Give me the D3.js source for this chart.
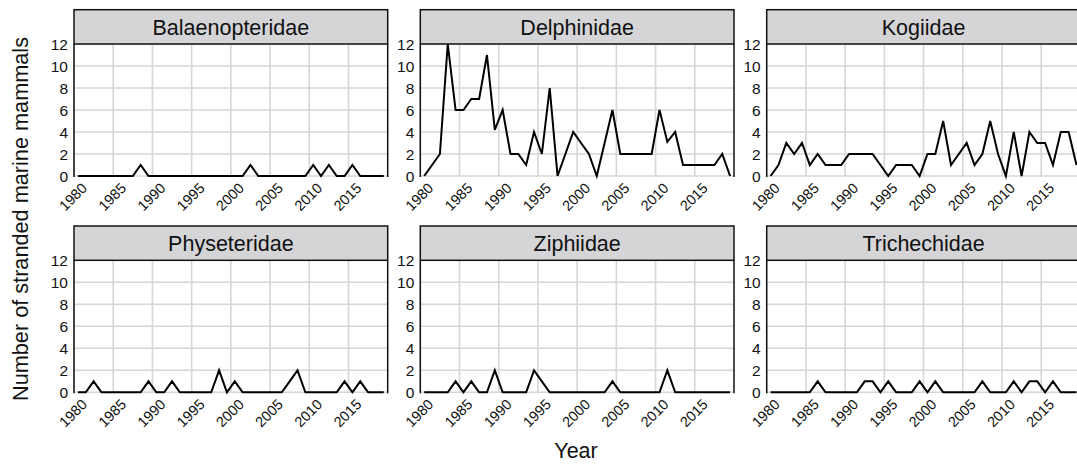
<!DOCTYPE html>
<html><head><meta charset="utf-8">
<script src="https://cdn.jsdelivr.net/npm/d3@7"></script>
<style>
body{margin:0;background:#fff;overflow:hidden}
text{font-family:Arial,"Liberation Sans",Helvetica,sans-serif;fill:#111}
</style></head>
<body><svg id="chart" width="1077" height="464"></svg>
<script>
const years=[1980,1981,1982,1983,1984,1985,1986,1987,1988,1989,1990,1991,1992,1993,1994,1995,1996,1997,1998,1999,2000,2001,2002,2003,2004,2005,2006,2007,2008,2009,2010,2011,2012,2013,2014,2015,2016,2017,2018,2019];
const families=["Balaenopteridae","Delphinidae","Kogiidae","Physeteridae","Ziphiidae","Trichechidae"];
const balaenopteridae=[0,0,0,0,0,0,0,0,1,0,0,0,0,0,0,0,0,0,0,0,0,0,1,0,0,0,0,0,0,0,1,0,1,0,0,1,0,0,0,0];
const delphinidae=[0,1,2,12,6,6,7,7,11,4.2,6,2,2,1,4,2,8,0,2,4,3,2,0,3,6,2,2,2,2,2,6,3.1,4,1,1,1,1,1,2,0];
const kogiidae=[0,1,3,2,3,1,2,1,1,1,2,2,2,2,1,0,1,1,1,0,2,2,5,1,2,3,1,2,5,2,0,4,0,4,3,3,1,4,4,1];
const physeteridae=[0,0,1,0,0,0,0,0,0,1,0,0,1,0,0,0,0,0,2,0,1,0,0,0,0,0,0,1,2,0,0,0,0,0,1,0,1,0,0,0];
const ziphiidae=[0,0,0,0,1,0,1,0,0,2,0,0,0,0,2,1,0,0,0,0,0,0,0,0,1,0,0,0,0,0,0,2,0,0,0,0,0,0,0,0];
const trichechidae=[0,0,0,0,0,0,1,0,0,0,0,0,1,1,0,1,0,0,0,1,0,1,0,0,0,0,0,1,0,0,0,1,0,1,1,0,1,0,0,0];
const seriesList=[balaenopteridae,delphinidae,kogiidae,physeteridae,ziphiidae,trichechidae];
const yTicks=[0,2,4,6,8,10,12];
const xTicks=[1980,1985,1990,1995,2000,2005,2010,2015];
const yTitle="Number of stranded marine mammals";
const xTitle="Year";

const svg=d3.select("#chart");
const panelW=313.7, panelH=132, stripH=34.3;
const colLeft=[74,420.3,766.7];
const rowTop=[44,260.3];

const x=d3.scaleLinear().domain([1980,2020]).range([0,panelW]);
const y=d3.scaleLinear().domain([0,12]).range([panelH,0]);

families.forEach((name,i)=>{
  const col=i%3,row=Math.floor(i/3);
  const g=svg.append("g").attr("transform",`translate(${colLeft[col]},${rowTop[row]})`);
  g.selectAll(".vg").data(xTicks).join("line")
    .attr("x1",d=>x(d)).attr("x2",d=>x(d)).attr("y1",0).attr("y2",panelH)
    .attr("stroke","#d6d6d6").attr("stroke-width",1.6);
  g.selectAll(".hg").data(yTicks).join("line")
    .attr("x1",0).attr("x2",panelW).attr("y1",d=>y(d)).attr("y2",d=>y(d))
    .attr("stroke","#d6d6d6").attr("stroke-width",1.6);
  g.append("line").attr("x1",0).attr("x2",0).attr("y1",0).attr("y2",panelH+1).attr("stroke","#111").attr("stroke-width",1.5);
  g.append("line").attr("x1",panelW).attr("x2",panelW).attr("y1",0).attr("y2",panelH+1).attr("stroke","#111").attr("stroke-width",1.5);
  g.append("rect").attr("x",0).attr("y",-stripH).attr("width",panelW).attr("height",stripH)
    .attr("fill","#d5d5d7").attr("stroke","#111").attr("stroke-width",1.5);
  g.append("text").attr("x",panelW/2).attr("y",-stripH/2).attr("dy","0.36em")
    .attr("text-anchor","middle").style("font-size","21.5px").text(name);
  g.selectAll(".yl").data(yTicks).join("text")
    .attr("x",-6).attr("y",d=>y(d)).attr("dy","0.36em").attr("text-anchor","end")
    .style("font-size","15.5px").text(d=>d);
  g.selectAll(".xl").data(xTicks).join("text")
    .attr("transform",d=>`translate(${x(d)+14},${panelH+13}) rotate(-45)`)
    .attr("text-anchor","end").style("font-size","14.5px").text(d=>d);
  const vals=seriesList[i];
  const line=d3.line().x((d,j)=>x(years[j]+0.5)).y(d=>y(d));
  g.append("path").datum(vals).attr("d",line).attr("fill","none")
    .attr("stroke","#000").attr("stroke-width",2).attr("stroke-linejoin","miter");
});

svg.append("text").attr("transform","translate(28,219) rotate(-90)")
  .attr("text-anchor","middle").style("font-size","21.7px").text(yTitle);
svg.append("text").attr("x",576).attr("y",458).attr("text-anchor","middle")
  .style("font-size","21.5px").text(xTitle);
</script></body></html>
